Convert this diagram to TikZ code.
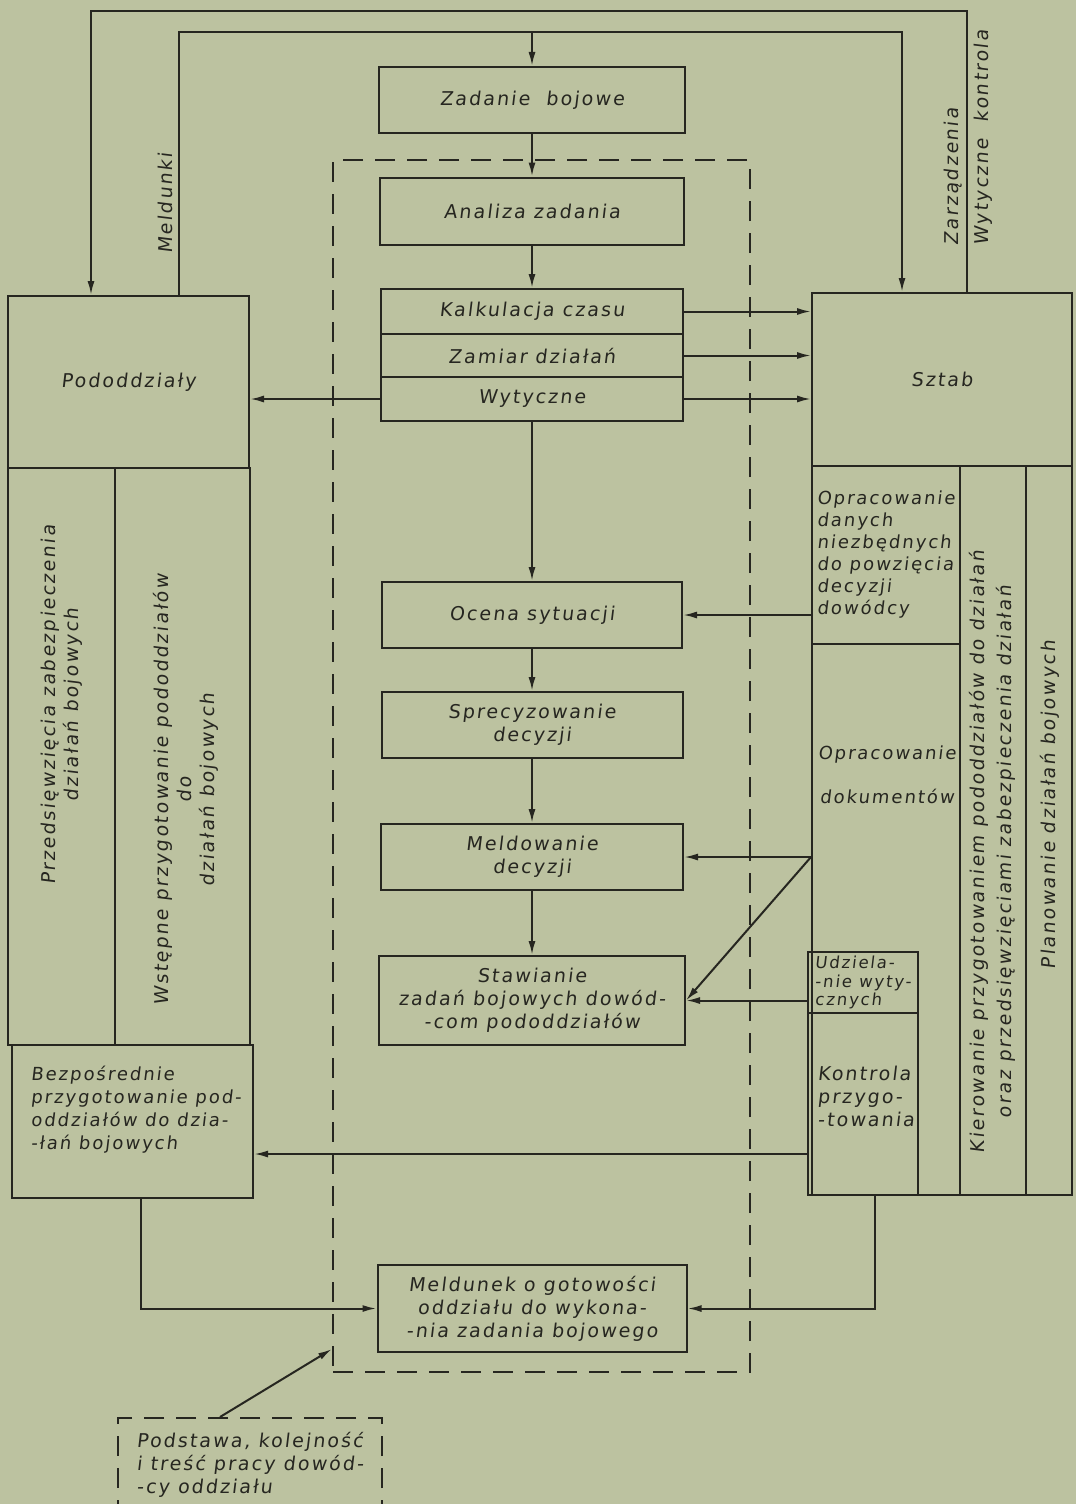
\documentclass[tikz,border=0pt]{standalone}
\usepackage{fontspec}
\setmainfont{DejaVu Sans}[FakeSlant=0.12,LetterSpace=11]
\usetikzlibrary{arrows.meta}
\definecolor{paper}{RGB}{188,194,160}
\definecolor{ink}{RGB}{38,38,32}
\begin{document}
\begin{tikzpicture}[x=1pt,y=-1pt,line width=2pt,draw=ink,text=ink,
    every node/.style={font=\fontsize{19}{23}\selectfont},
    box/.style={draw,rectangle,align=center,inner sep=3pt},
    frame/.style={draw,rectangle,dash pattern=on 20pt off 12pt},
    arr/.style={-{Latex[length=14pt,width=7pt]}},
    vtext/.style={rotate=90,align=center}]
      \useasboundingbox (0,0) rectangle (1076,1504);
      \clip (0,0) rectangle (1076,1504);
      \fill[paper] (0,0) rectangle (1076,1504);

      % centre column
      \node[box,minimum width=306pt,minimum height=66pt] (zad) at (532,100) {Zadanie~~bojowe};
      \node[box,minimum width=304pt,minimum height=67pt] (anal) at (532,211) {Analiza zadania};
      \node[box,minimum width=302pt,minimum height=45pt] (kalk) at (532,311.5) {Kalkulacja czasu};
      \node[box,minimum width=302pt,minimum height=43pt] (zam) at (532,355.5) {Zamiar działań};
      \node[box,minimum width=302pt,minimum height=44pt] (wyt) at (532,399) {Wytyczne};
      \node[box,minimum width=300pt,minimum height=66pt] (ocena) at (532,615) {Ocena sytuacji};
      \node[box,minimum width=301pt,minimum height=66pt] (spr) at (532,725) {Sprecyzowanie\\decyzji};
      \node[box,minimum width=302pt,minimum height=66pt] (meld) at (532,857) {Meldowanie\\decyzji};
      \node[box,minimum width=306pt,minimum height=89pt] (staw) at (532,1000.5)
        {Stawianie\\zadań bojowych dowód-\\-com pododdziałów};
      \node[box,minimum width=309pt,minimum height=87pt] (meldunek) at (532,1308.5)
        {Meldunek o gotowości\\oddziału do wykona-\\-nia zadania bojowego};
      \node[frame,minimum width=417pt,minimum height=1212pt] (frame) at (541.5,766) {};

      % left column
      \node[box,minimum width=241pt,minimum height=172pt] (podod) at (128.5,382) {Pododdziały};
      \node[box,minimum width=107pt,minimum height=577pt] (przed) at (61.5,756.5) {};
      \node[box,minimum width=135pt,minimum height=577pt] (wstep) at (182.5,756.5) {};
      \node[vtext] (przedtxt) at (62,705) {Przedsięwzięcia zabezpieczenia\\działań bojowych};
      \node[vtext] (wsteptxt) at (186,790) {Wstępne przygotowanie pododdziałów\\do\\działań bojowych};
      \node[box,minimum width=241pt,minimum height=153pt] (bezp) at (132.5,1121.5) {};
      \node[align=left,font=\fontsize{18}{23}\selectfont] (bezptxt) at (136,1110)
        {Bezpośrednie\\przygotowanie pod-\\oddziałów do dzia-\\-łań bojowych};

      % right column
      \node[box,minimum width=260pt,minimum height=173pt] (sztab) at (942,379.5) {Sztab};
      \node[box,minimum width=148pt,minimum height=178pt,align=left,
        font=\fontsize{18}{22}\selectfont] (opdan) at (886,555)
        {Opracowanie\\danych\\niezbędnych\\do powzięcia\\decyzji\\dowódcy};
      \node[box,minimum width=148pt,minimum height=551pt] (opdok) at (886,919.5) {};
      \node[align=center,font=\fontsize{18}{22}\selectfont] (opdoktxt) at (887,775)
        {Opracowanie\\[\baselineskip]dokumentów};
      \node[box,minimum width=110pt,minimum height=61pt,align=left,inner sep=2pt,
        font=\fontsize{16.5}{18.5}\selectfont] (udz) at (863,982.5) {Udziela-\\-nie wyty-\\cznych};
      \node[box,minimum width=110pt,minimum height=182pt] (kontr) at (863,1104) {};
      \node[align=left] (kontrtxt) at (866,1096) {Kontrola\\przygo-\\-towania};
      \node[box,minimum width=66pt,minimum height=729pt] (kier) at (993,830.5) {};
      \node[box,minimum width=46pt,minimum height=729pt] (plan) at (1049,830.5) {};
      \node[vtext,font=\fontsize{19}{27}\selectfont] (kiertxt) at (992,852)
        {Kierowanie przygotowaniem pododdziałów do działań\\oraz przedsięwzięciami zabezpieczenia działań};
      \node[vtext] (plantxt) at (1050,805) {Planowanie działań bojowych};

      % note
      \node[frame,minimum width=264pt,minimum height=94pt,align=left] (podst) at (250,1465)
        {Podstawa, kolejność\\i treść pracy dowód-\\-cy oddziału};

      % loop labels
      \node[rotate=90,anchor=west] (meldunki) at (165,258) {Meldunki};
      \node[rotate=90,anchor=west] (zarz) at (953,250) {Zarządzenia};
      \node[rotate=90,anchor=west] (wytk) at (983,250) {Wytyczne~~kontrola};

      % connectors
      \coordinate (top) at (532,32);
      \draw[arr] ([xshift=25pt]sztab.north) -- ++(0,-281) -| ([xshift=-37.5pt]podod.north);
      \draw[arr] ([xshift=50.5pt]podod.north) |- (top) -| ([xshift=-40pt]sztab.north);
      \draw[arr] (top) -- (zad);
      \draw[arr] (zad) -- (anal);
      \draw[arr] (anal) -- (kalk);
      \draw[arr] (wyt) -- (ocena);
      \draw[arr] (ocena) -- (spr);
      \draw[arr] (spr) -- (meld);
      \draw[arr] (meld) -- (staw);
      \foreach \n in {kalk,zam,wyt}
        \draw[arr] (\n.east) -- (\n.east -| sztab.west);
      \draw[arr] (wyt.west) -- (wyt.west -| podod.east);
      \draw[arr] (ocena.east -| opdan.west) -- (ocena.east);
      \coordinate (split) at (meld.east -| opdok.west);
      \draw[arr] (split) -- (meld.east);
      \draw[arr] (split) -- (staw.east);
      \draw[arr] (staw.east -| udz.west) -- (staw.east);
      \draw[arr] ([yshift=-50pt]kontr.west) -- ([yshift=-50pt]kontr.west -| bezp.east);
      \draw[arr] ([xshift=8.5pt]bezp.south) |- (meldunek.west);
      \draw[arr] ([xshift=12pt]kontr.south) |- (meldunek.east);
      \draw[arr] ([xshift=-30pt]podst.north) -- ([yshift=24pt]frame.south west);
    \end{tikzpicture}
\end{document}
